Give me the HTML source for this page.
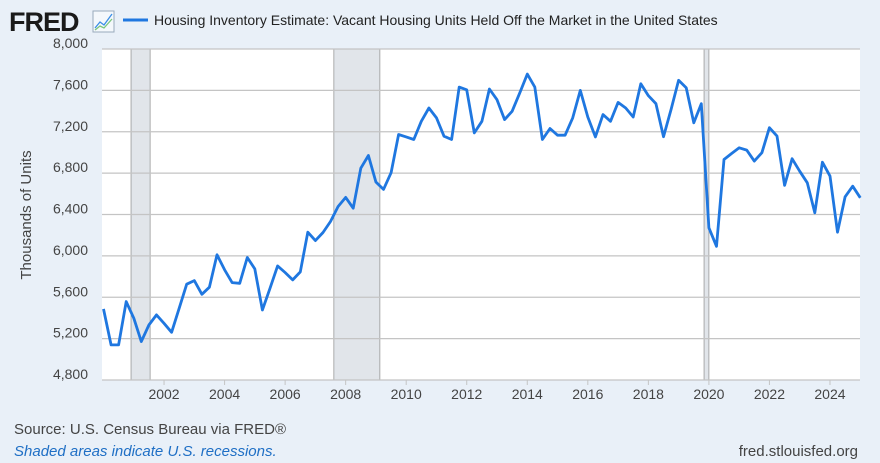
<!DOCTYPE html>
<html><head><meta charset="utf-8"><style>
html,body{margin:0;padding:0;background:#e9f0f8;}
svg{display:block;font-family:"Liberation Sans",sans-serif;}
</style></head><body>
<svg id="chart" width="880" height="463" viewBox="0 0 880 463">
<rect x="0" y="0" width="880" height="463" fill="#e9f0f8"/>
<text x="9" y="31" font-size="27" font-weight="bold" fill="#1a1a1a" letter-spacing="-1">FRED</text>
<g>
<rect x="93" y="11" width="21" height="21" fill="#f4f8fc" stroke="#9ab" stroke-width="1"/>
<polyline points="95,28 100,22 104,25 112,14" fill="none" stroke="#3a8ee6" stroke-width="1.3"/>
<polyline points="95,30 100,26 104,28 112,19" fill="none" stroke="#7bc67b" stroke-width="1.3"/>
</g>
<line x1="123" y1="20" x2="148" y2="20" stroke="#1f77e0" stroke-width="3"/>
<text x="154" y="25" font-size="14" fill="#222">Housing Inventory Estimate: Vacant Housing Units Held Off the Market in the United States</text>
<rect x="102" y="49" width="758" height="331" fill="#ffffff"/>
<g id="rec"></g>
<g id="grid"></g>
<g id="yt"></g>
<g id="xt"></g>
<path id="line" fill="none" stroke="#1f77e0" stroke-width="2.8" stroke-linejoin="round"/>
<text x="0" y="0" transform="translate(31,215) rotate(-90)" text-anchor="middle" font-size="15" fill="#444">Thousands of Units</text>
<text x="14" y="434" font-size="15" fill="#444">Source: U.S. Census Bureau via FRED®</text>
<text x="14" y="456" font-size="15" font-style="italic" fill="#1f6fc5">Shaded areas indicate U.S. recessions.</text>
<text x="858" y="456" text-anchor="end" font-size="15" fill="#444">fred.stlouisfed.org</text>
</svg>
<script>
const startYear = 2000;
const values = [5487,5139,5139,5558,5397,5171,5332,5429,5348,5261,5494,5726,5761,5629,5697,6010,5865,5742,5735,5984,5874,5477,5687,5903,5839,5768,5845,6229,6148,6226,6332,6477,6565,6461,6848,6970,6714,6643,6804,7173,7150,7125,7301,7430,7334,7157,7125,7632,7606,7189,7301,7613,7510,7317,7398,7574,7757,7632,7125,7231,7167,7167,7334,7600,7343,7150,7366,7301,7484,7430,7343,7664,7549,7472,7152,7416,7697,7626,7287,7471,6271,6093,6932,6990,7045,7023,6916,6997,7239,7158,6681,6939,6819,6706,6416,6906,6771,6229,6571,6674,6561];
const yTicks = [4800,5200,5600,6000,6400,6800,7200,7600,8000];
const yTickLabels = ["4,800","5,200","5,600","6,000","6,400","6,800","7,200","7,600","8,000"];
const xTicks = [2002,2004,2006,2008,2010,2012,2014,2016,2018,2020,2022,2024];
const recessionStarts = [2000.91,2007.61,2019.84];
const recessionEnds = [2001.54,2009.13,2020.0];
const NS="http://www.w3.org/2000/svg";
function X(t){return 103.5+(t-2000)*30.27;}
function Y(v){return 380-(v-4800)*(331/3200);}
function mk(tag,attrs,parent){const e=document.createElementNS(NS,tag);for(const k in attrs)e.setAttribute(k,attrs[k]);parent.appendChild(e);return e;}
const rec=document.getElementById('rec');
recessionStarts.forEach((s,i)=>{
  const r=mk('rect',{x:X(s),y:49,width:X(recessionEnds[i])-X(s),height:331,fill:'#e1e5ea',stroke:'#999','stroke-width':0.8},rec);
  
  
});
const grid=document.getElementById('grid'),yt=document.getElementById('yt'),xt=document.getElementById('xt');
yTicks.forEach((v,i)=>{
  const l=mk('line',{x1:102,x2:860,y1:Y(v),y2:Y(v),stroke:'#c4c4c4','stroke-width':1.2},grid);
  
  
  const t=mk('text',{x:88,y:Y(v)-1,'text-anchor':'end','font-size':14,fill:'#444'},yt);
  t.textContent=yTickLabels[i];
  
  
});
xTicks.forEach(yr=>{
  const l=mk('line',{x1:X(yr),x2:X(yr),y1:380,y2:385,stroke:'#c4c4c4','stroke-width':1},xt);
  
  
  const t=mk('text',{x:X(yr),y:399,'text-anchor':'middle','font-size':14,fill:'#444'},xt);
  t.textContent=String(yr);
  
  
});
document.getElementById('line').setAttribute('d',values.map((v,i)=>(i?'L':'M')+X(startYear+i/4).toFixed(1)+','+Y(v).toFixed(1)).join(''));
</script>
</body></html>
